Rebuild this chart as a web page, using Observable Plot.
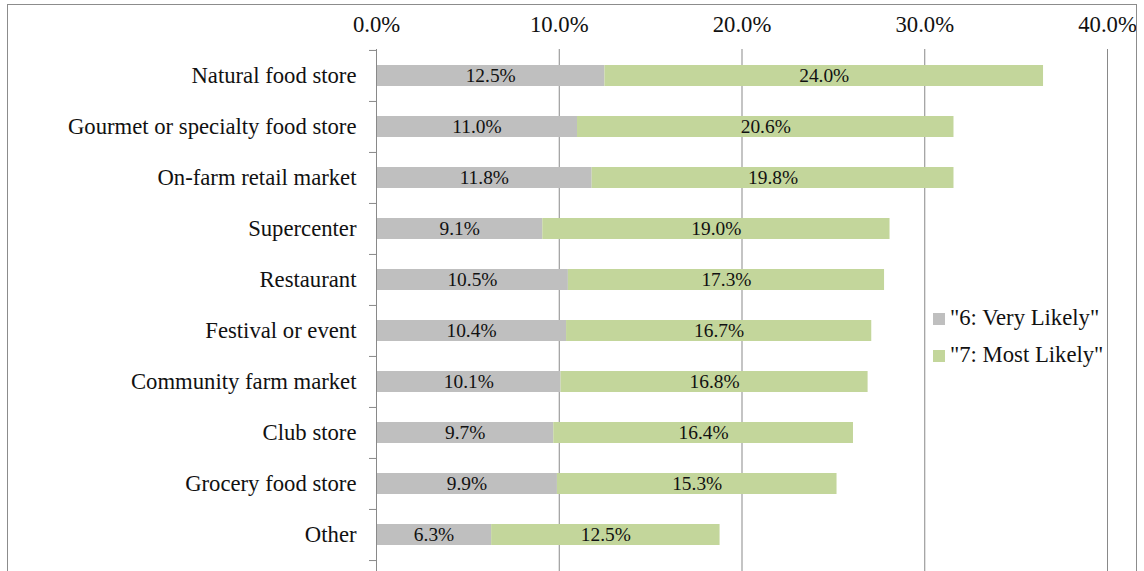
<!DOCTYPE html>
<html>
<head>
<meta charset="utf-8">
<script src="https://cdn.jsdelivr.net/npm/d3@7"></script>
<script src="https://cdn.jsdelivr.net/npm/@observablehq/plot@0.6"></script>
<style>
  html, body { margin: 0; padding: 0; background: #fff; overflow: hidden; }
  #wrap { position: relative; width: 1144px; height: 571px; }
  #frame { position: absolute; left: 7px; top: 4px; width: 1130px; height: 620px; border: 1px solid #8c8c8c; box-sizing: border-box; pointer-events: none; }
  #legend { position: absolute; left: 933px; top: 299px; font-family: 'Liberation Serif', 'Times New Roman', serif; font-size: 22.7px; color: #111; }
  #legend .row { display: flex; align-items: center; height: 37px; }
  #legend .sw { width: 12px; height: 12px; margin-right: 5px; margin-top: 3px; }
</style>
</head>
<body>
<div id="wrap">
  <div id="chart"></div>
  <div id="legend"></div>
  <div id="frame"></div>
</div>
<script>
const categories = ["Natural food store", "Gourmet or specialty food store", "On-farm retail market", "Supercenter", "Restaurant", "Festival or event", "Community farm market", "Club store", "Grocery food store", "Other"];
const seriesNames = ["\"6: Very Likely\"", "\"7: Most Likely\""];
const veryLikely = [12.5, 11.0, 11.8, 9.1, 10.5, 10.4, 10.1, 9.7, 9.9, 6.3];
const mostLikely = [24.0, 20.6, 19.8, 19.0, 17.3, 16.7, 16.8, 16.4, 15.3, 12.5];
const xTicks = [0, 10, 20, 30, 40];
const colors = ["#bfbfbf", "#c3d69b"];

const rows = [];
categories.forEach((c, i) => {
  rows.push({cat: c, series: seriesNames[0], value: veryLikely[i]});
  rows.push({cat: c, series: seriesNames[1], value: mostLikely[i]});
});

const font = "'Liberation Serif', 'Times New Roman', serif";
const mTop = 49, mBottom = 11, H = 571;
const step = (H - mBottom - mTop) / categories.length;

const chart = Plot.plot({
  width: 1144,
  height: H,
  marginLeft: 376,
  marginRight: 37,
  marginTop: mTop,
  marginBottom: mBottom,
  style: {fontFamily: font, fontSize: "22.7px", color: "#111", background: "transparent"},
  x: {domain: [0, 40], ticks: xTicks},
  y: {domain: categories, paddingInner: 0.59, paddingOuter: 0.295},
  color: {domain: seriesNames, range: colors},
  marks: [
    Plot.ruleX(xTicks.filter(d => d > 0), {stroke: "#898989", strokeOpacity: 1, insetBottom: -14}),
    Plot.barX(rows, Plot.stackX({x: "value", y: "cat", fill: "series", order: seriesNames})),
    Plot.text(rows, Plot.stackX({x: "value", y: "cat", z: "series", order: seriesNames, text: d => d.value.toFixed(1) + "%", fill: "#111", fontSize: 19.4})),
    Plot.ruleX([0], {stroke: "#898989", insetBottom: -14}),
    Plot.ruleY(categories, {y: d => d, x1: 0, x2: 0, insetLeft: -7, stroke: "#898989", dy: -step / 2}),
    Plot.ruleY(categories.slice(-1), {y: d => d, x1: 0, x2: 0, insetLeft: -7, stroke: "#898989", dy: step / 2}),
    Plot.axisX({anchor: "top", ticks: xTicks, tickFormat: d => d.toFixed(1) + "%", tickSize: 0, tickPadding: 18, fontSize: 22.7, label: null}),
    Plot.axisY({anchor: "left", tickSize: 0, tickPadding: 20, fontSize: 22.7, label: null})
  ]
});
document.getElementById("chart").appendChild(chart);

const legend = document.getElementById("legend");
seriesNames.forEach((s, i) => {
  const row = document.createElement("div");
  row.className = "row";
  const sw = document.createElement("div");
  sw.className = "sw";
  sw.style.background = colors[i];
  const t = document.createElement("span");
  t.textContent = s;
  row.appendChild(sw);
  row.appendChild(t);
  legend.appendChild(row);
});
</script>
</body>
</html>
